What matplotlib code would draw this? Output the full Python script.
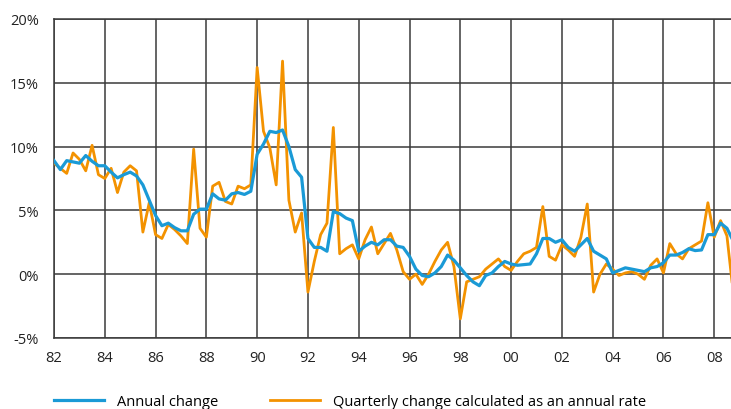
import numpy as np
import matplotlib
matplotlib.use('Agg')
import matplotlib.pyplot as plt

plt.rcParams['font.family'] = ['Open Sans', 'DejaVu Sans']

# Quarterly observations, 1982 Q1 to 2008 Q4 (years as two-digit offsets from 1900)
start_year = 82
annual_change = [
    8.9, 8.2, 8.9, 8.8,   # 82
    8.7, 9.3, 8.85, 8.5,  # 83
    8.5, 8.0, 7.55, 7.8,  # 84
    8.0, 7.7, 7.0, 5.8,   # 85
    4.6, 3.8, 4.0, 3.65,  # 86
    3.4, 3.4, 4.7, 5.1,   # 87
    5.1, 6.3, 5.9, 5.8,   # 88
    6.3, 6.4, 6.25, 6.5,  # 89
    9.4, 10.2, 11.2, 11.1,  # 90
    11.3, 10.0, 8.2, 7.6,   # 91
    2.8, 2.1, 2.1, 1.8,   # 92
    4.9, 4.75, 4.4, 4.2,  # 93
    1.8, 2.2, 2.5, 2.3,   # 94
    2.7, 2.7, 2.2, 2.1,   # 95
    1.4, 0.4, -0.1, -0.2,  # 96
    0.1, 0.6, 1.5, 1.1,   # 97
    0.5, -0.1, -0.6, -0.9,  # 98
    -0.1, 0.1, 0.6, 1.0,  # 99
    0.8, 0.7, 0.75, 0.8,  # 00
    1.6, 2.8, 2.8, 2.5,   # 01
    2.7, 2.1, 1.8, 2.3,   # 02
    2.8, 1.8, 1.5, 1.2,   # 03
    0.1, 0.3, 0.5, 0.4,   # 04
    0.3, 0.2, 0.5, 0.6,   # 05
    0.9, 1.5, 1.5, 1.7,   # 06
    2.0, 1.85, 1.9, 3.1,  # 07
    3.1, 4.0, 3.6, 2.6,   # 08
]
quarterly_annualised = [
    8.7, 8.3, 7.9, 9.5,   # 82
    9.0, 8.1, 10.1, 7.8,  # 83
    7.5, 8.3, 6.4, 8.0,   # 84
    8.5, 8.1, 3.3, 5.6,   # 85
    3.1, 2.8, 3.9, 3.5,   # 86
    3.0, 2.4, 9.8, 3.6,   # 87
    2.9, 6.9, 7.2, 5.7,   # 88
    5.5, 6.9, 6.7, 7.0,   # 89
    16.2, 11.2, 9.9, 7.0,  # 90
    16.7, 5.8, 3.3, 4.8,   # 91
    -1.4, 1.0, 3.1, 4.0,   # 92
    11.5, 1.6, 2.0, 2.3,   # 93
    1.2, 2.7, 3.7, 1.6,    # 94
    2.4, 3.2, 1.9, 0.2,    # 95
    -0.4, 0.0, -0.8, 0.0,  # 96
    1.0, 1.9, 2.5, 0.6,    # 97
    -3.5, -0.6, -0.4, -0.2,  # 98
    0.4, 0.8, 1.2, 0.6,    # 99
    0.3, 1.0, 1.6, 1.8,    # 00
    2.1, 5.3, 1.4, 1.1,    # 01
    2.3, 1.9, 1.4, 2.9,    # 02
    5.5, -1.4, 0.0, 0.8,   # 03
    0.4, -0.1, 0.1, 0.2,   # 04
    0.0, -0.4, 0.7, 1.2,   # 05
    0.1, 2.4, 1.6, 1.2,    # 06
    2.0, 2.3, 2.6, 5.6,    # 07
    2.9, 4.2, 3.0, -1.5,   # 08
]
x_tick_labels = ['82', '84', '86', '88', '90', '92', '94', '96', '98',
                 '00', '02', '04', '06', '08']
y_ticks = [-5, 0, 5, 10, 15, 20]

dates = start_year + np.arange(len(annual_change)) / 4.0

BLUE = '#1a9ad6'
ORANGE = '#f39200'
GRID = '#3a3a3a'

fig = plt.figure(figsize=(7.31, 4.10), dpi=100)
ax = fig.add_axes([54 / 731, 1 - 339 / 410, 1 - 54 / 731, (339 - 20) / 410])

ax.plot(dates, quarterly_annualised, color=ORANGE, lw=2.0, zorder=3,
        label='Quarterly change calculated as an annual rate')
ax.plot(dates, annual_change, color=BLUE, lw=2.3, zorder=4, label='Annual change')

ax.set_xlim(82, 108.66)
ax.set_ylim(-5, 20)
x_ticks = np.arange(82, 109, 2)
ax.set_xticks(x_ticks)
ax.set_xticklabels(x_tick_labels)
ax.set_yticks(y_ticks)
ax.set_yticklabels([f'{v}%' for v in y_ticks])
ax.tick_params(length=0, labelsize=10.5, colors='#222222')
ax.tick_params(axis='x', pad=9)
ax.tick_params(axis='y', pad=11)

ax.grid(True, color=GRID, lw=1.1)
ax.set_axisbelow(True)
for side in ['left', 'bottom', 'top']:
    ax.spines[side].set_color(GRID)
    ax.spines[side].set_linewidth(1.1)
ax.spines['right'].set_visible(False)

handles, labels = ax.get_legend_handles_labels()
fig.legend([handles[1], handles[0]], [labels[1], labels[0]],
           loc='center left', bbox_to_anchor=(54 / 731, 1 - 403 / 410),
           ncol=2, frameon=False, fontsize=10.5, handlelength=3.4,
           handletextpad=0.9, columnspacing=3.6, borderpad=0, borderaxespad=0)

fig.savefig('out.png', dpi=100)
plt.close(fig)
